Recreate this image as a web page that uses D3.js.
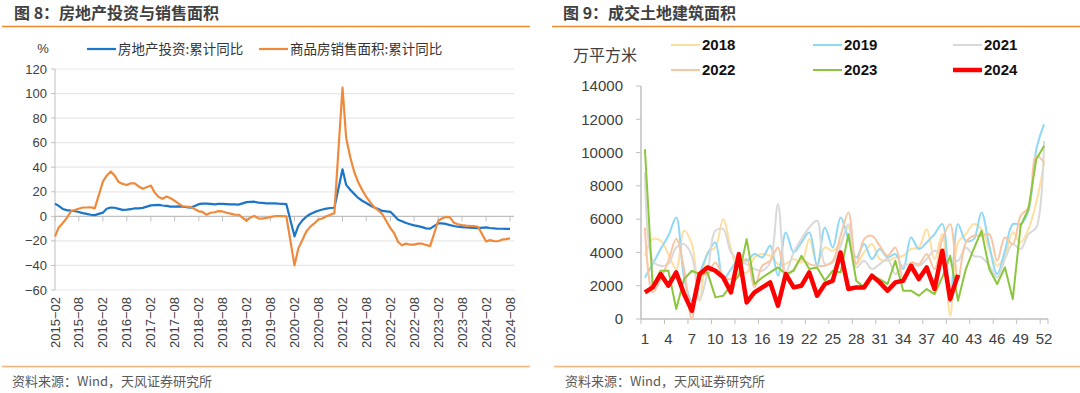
<!DOCTYPE html>
<html><head><meta charset="utf-8">
<script src="https://cdn.jsdelivr.net/npm/d3@7/dist/d3.min.js"></script>
<style>
html,body{margin:0;padding:0;background:#fff;}
svg{display:block;font-family:"Liberation Sans","Noto Sans CJK SC",Arial,sans-serif;}
</style></head>
<body>
<svg id="c" width="1080" height="393"></svg>
<script>
// ---------- Left chart data ----------
const months = [
"2015-02","2015-03","2015-04","2015-05","2015-06","2015-07","2015-08","2015-09","2015-10","2015-11","2015-12",
"2016-02","2016-03","2016-04","2016-05","2016-06","2016-07","2016-08","2016-09","2016-10","2016-11","2016-12",
"2017-02","2017-03","2017-04","2017-05","2017-06","2017-07","2017-08","2017-09","2017-10","2017-11","2017-12",
"2018-02","2018-03","2018-04","2018-05","2018-06","2018-07","2018-08","2018-09","2018-10","2018-11","2018-12",
"2019-02","2019-03","2019-04","2019-05","2019-06","2019-07","2019-08","2019-09","2019-10","2019-11","2019-12",
"2020-02","2020-03","2020-04","2020-05","2020-06","2020-07","2020-08","2020-09","2020-10","2020-11","2020-12",
"2021-02","2021-03","2021-04","2021-05","2021-06","2021-07","2021-08","2021-09","2021-10","2021-11","2021-12",
"2022-02","2022-03","2022-04","2022-05","2022-06","2022-07","2022-08","2022-09","2022-10","2022-11","2022-12",
"2023-02","2023-03","2023-04","2023-05","2023-06","2023-07","2023-08","2023-09","2023-10","2023-11","2023-12",
"2024-02","2024-03","2024-04","2024-05","2024-06","2024-07","2024-08"];
const investYoY = [
10.4,8.5,6.0,5.1,4.6,4.3,3.5,2.6,2.0,1.3,1.0,
3.0,6.2,7.2,7.0,6.1,5.3,5.4,5.8,6.6,6.5,6.9,
8.9,9.1,9.3,8.8,8.5,7.9,7.9,8.1,7.8,7.5,7.0,
9.9,10.4,10.3,10.2,9.7,10.2,10.1,9.9,9.7,9.7,9.5,
11.6,11.8,11.9,11.2,10.9,10.6,10.5,10.5,10.3,10.2,9.9,
-16.3,-7.7,-3.3,-0.3,1.9,3.4,4.6,5.6,6.3,6.8,7.0,
38.3,25.6,21.6,18.3,15.0,12.7,10.9,8.8,7.2,6.0,4.4,
3.7,0.7,-2.7,-4.0,-5.4,-6.4,-7.4,-8.0,-8.8,-9.8,-10.0,
-5.7,-5.8,-6.2,-7.2,-7.9,-8.5,-8.8,-9.1,-9.3,-9.4,-9.6,
-9.0,-9.5,-9.8,-10.1,-10.1,-10.2,-10.2];
const salesYoY = [
-16.3,-9.2,-5.4,-1.6,3.9,5.1,6.2,7.2,7.2,7.4,6.5,
28.2,33.1,36.5,33.2,27.9,26.4,25.5,26.9,26.8,24.3,22.5,
25.1,19.5,15.7,14.3,16.1,14.7,12.7,10.3,8.2,7.9,7.7,
4.1,3.6,1.3,2.9,3.3,4.2,4.0,2.9,2.2,1.4,1.3,
-3.6,-0.9,0.3,-1.6,-1.8,-1.3,-0.6,0.1,0.1,0.2,-0.1,
-39.9,-26.3,-19.3,-12.3,-8.4,-5.8,-2.6,-1.8,0.0,1.3,2.6,
104.9,63.8,48.1,36.3,27.7,21.5,15.9,11.3,7.5,4.8,1.9,
-9.6,-13.6,-20.9,-23.6,-22.2,-23.1,-23.0,-22.2,-22.3,-23.3,-24.3,
-3.6,-1.8,-0.4,-0.9,-5.3,-6.5,-7.1,-7.5,-7.8,-8.0,-8.5,
-20.5,-19.4,-20.2,-20.3,-19.0,-18.6,-18.0];
const leftXTicks = ["2015-02","2015-08","2016-02","2016-08","2017-02","2017-08","2018-02","2018-08","2019-02","2019-08",
"2020-02","2020-08","2021-02","2021-08","2022-02","2022-08","2023-02","2023-08","2024-02","2024-08"];
const leftYTicks = [-60,-40,-20,0,20,40,60,80,100,120];
const leftSeriesNames = ["房地产投资:累计同比","商品房销售面积:累计同比"];

// ---------- Right chart data ----------
const weeks = d3.range(1,53);
const rightXTicks = [1,4,7,10,13,16,19,22,25,28,31,34,37,40,43,46,49,52];
const rightYTicks = [0,2000,4000,6000,8000,10000,12000,14000];
const y2018 = [3800,4800,4700,3900,3000,5300,4500,1100,4000,4300,6000,4200,2900,2800,3700,3900,3800,3300,3300,3600,3400,4800,3300,4300,4100,4600,5500,3300,4000,4500,3600,3500,3700,3800,4200,4300,5400,3600,5100,200,4600,5100,5700,5400,4200,3200,3800,5200,4600,5400,7000,9400];
const y2019 = [2500,3300,4200,5000,6100,2500,1100,2700,3900,4600,2400,3000,3600,3500,3900,3700,4400,2600,5200,4000,4600,5200,3200,5500,4300,6100,4800,3700,4500,3600,4200,3700,3900,3000,4900,4200,4600,5100,5700,1000,5700,4700,4800,6400,4400,2700,4100,5700,5700,6500,10200,11700];
const y2021 = [8800,3500,3200,3300,4300,4500,3800,1200,2800,5300,5400,4000,3500,3300,3000,2900,3400,6900,2800,4000,4800,5500,5900,3300,3400,4400,5700,3100,3500,3000,3300,3600,2700,3200,3300,3200,3600,4100,3800,3600,3500,4300,3800,3700,3200,2500,3600,4500,4200,5100,5500,10700];
const y2022 = [5500,1600,2400,3500,4800,3000,0,2600,2700,3400,2600,2400,3200,3600,1900,3200,3500,4300,2600,3000,3600,3300,3200,3200,3500,5000,6400,3300,4800,5000,4400,3800,4300,2400,3400,3300,3900,3000,4800,5700,2400,4600,5000,5000,5100,3500,4900,4500,6200,6700,9800,9400];
const y2023 = [10200,1900,2900,2900,600,2400,2900,2700,2800,1300,1400,2000,2600,4800,2100,2500,2800,3100,2700,2900,3800,3000,3100,2300,2900,2800,5100,2300,1900,2600,2400,2100,3500,1700,1700,1400,1800,1500,2500,3800,1100,3000,4200,5300,3000,2100,3100,1200,5600,6600,9600,10400];
const y2024 = [1600,1900,2700,2000,2800,1500,500,2700,3100,2900,2500,1600,3900,1000,1600,1900,2200,800,2700,1900,2000,2800,1400,2100,2300,4000,1800,1900,1900,2600,2200,1700,2200,2300,3200,2400,3100,1800,4100,1200,2650];
const rightSeries = [
  {name:"2018", values:y2018, color:"#ffdf9f", w:2, smooth:true},
  {name:"2019", values:y2019, color:"#8fd8f6", w:2, smooth:true},
  {name:"2021", values:y2021, color:"#d9d9d9", w:2, smooth:true},
  {name:"2022", values:y2022, color:"#f8c6a4", w:2, smooth:true},
  {name:"2023", values:y2023, color:"#8cc63e", w:2, smooth:false},
  {name:"2024", values:y2024, color:"#ff0000", w:4.5, smooth:false}
];

const svg = d3.select("#c");
const gridC = "#e8e8e8", axisC = "#bfbfbf", txtC = "#404040";

// ---------- headers / footers ----------
function header(x, x0, x1, title){
  svg.append("text").attr("x",x).attr("y",19).attr("font-size",16).attr("font-weight","bold")
    .attr("fill","#404040").attr("font-family","'Noto Sans CJK SC',sans-serif").text(title);
  svg.append("line").attr("x1",x0).attr("x2",x1).attr("y1",26.5).attr("y2",26.5).attr("stroke","#f08a2e").attr("stroke-width",1.5);
}
header(14, 2, 530, "图 8：房地产投资与销售面积");
header(563, 552, 1080, "图 9：成交土地建筑面积");
function footer(x, x0, x1){
  svg.append("line").attr("x1",x0).attr("x2",x1).attr("y1",366.5).attr("y2",366.5).attr("stroke","#f5b27a").attr("stroke-width",1.5);
  svg.append("text").attr("x",x).attr("y",386).attr("font-size",13).attr("fill","#595959")
    .attr("font-family","'Noto Sans CJK SC',sans-serif").text("资料来源：Wind，天风证券研究所");
}
footer(12, 2, 530);
footer(565, 554, 1080);

// ---------- Left chart ----------
const parse = d3.utcParse("%Y-%m");
const xL = d3.scaleUtc().domain([parse(months[0]), parse(months[months.length-1])]).range([55, 510]);
const yL = d3.scaleLinear().domain([-60,120]).range([290, 69]);
const L = svg.append("g");
// gridlines
L.selectAll(".g").data(leftYTicks.filter(d=>d!==0)).join("line")
  .attr("x1",55).attr("x2",514).attr("y1",d=>yL(d)).attr("y2",d=>yL(d)).attr("stroke",gridC).attr("stroke-width",1.2);
// y axis
L.append("line").attr("x1",55).attr("x2",55).attr("y1",yL(120)).attr("y2",yL(-60)).attr("stroke",axisC);
L.selectAll(".yt").data(leftYTicks).join("line").attr("x1",51).attr("x2",55).attr("y1",d=>yL(d)).attr("y2",d=>yL(d)).attr("stroke",axisC);
L.selectAll(".yl").data(leftYTicks).join("text").attr("x",47).attr("y",d=>yL(d)).attr("dy","0.35em")
  .attr("text-anchor","end").attr("font-size",13).attr("fill",txtC).text(d=>d<0?"−"+Math.abs(d):d);
L.append("text").attr("x",43).attr("y",53).attr("text-anchor","middle").attr("font-size",13).attr("fill",txtC).text("%");
// x axis at zero
L.append("line").attr("x1",55).attr("x2",514).attr("y1",yL(0)).attr("y2",yL(0)).attr("stroke",axisC).attr("stroke-width",1.2);
L.selectAll(".xt").data(leftXTicks).join("line").attr("x1",d=>xL(parse(d))).attr("x2",d=>xL(parse(d)))
  .attr("y1",yL(0)).attr("y2",yL(0)+5).attr("stroke",axisC);
L.selectAll(".xl").data(leftXTicks).join("text")
  .attr("transform",d=>`translate(${xL(parse(d))},297) rotate(-90)`).attr("dy","0.35em")
  .attr("text-anchor","end").attr("font-size",13).attr("fill",txtC).text(d=>d.replace("-","−"));
// lines
const lineL = vals => d3.line().x((d,i)=>xL(parse(months[i]))).y(d=>yL(d))(vals);
L.append("path").attr("d",lineL(investYoY)).attr("fill","none").attr("stroke","#1b75c8").attr("stroke-width",2.2).attr("stroke-linejoin","round");
L.append("path").attr("d",lineL(salesYoY)).attr("fill","none").attr("stroke","#ef8a3c").attr("stroke-width",2.2).attr("stroke-linejoin","round");
// legend
const legL = [{x:87, c:"#1b75c8"},{x:259, c:"#ef8a3c"}];
leftSeriesNames.forEach((n,i)=>{
  L.append("line").attr("x1",legL[i].x).attr("x2",legL[i].x+29).attr("y1",49).attr("y2",49).attr("stroke",legL[i].c).attr("stroke-width",2.2);
  L.append("text").attr("x",legL[i].x+31).attr("y",49).attr("dy","0.35em").attr("font-size",13.5).attr("fill","#333")
    .attr("font-family","'Noto Sans CJK SC',sans-serif").text(n);
});

// ---------- Right chart ----------
const xR = d3.scaleBand().domain(weeks).range([641, 1048]);
const yR = d3.scaleLinear().domain([0,14000]).range([319, 86]);
const R = svg.append("g");
R.append("line").attr("x1",641).attr("x2",641).attr("y1",yR(14000)).attr("y2",yR(0)).attr("stroke",axisC).attr("stroke-width",1.5);
R.selectAll(".yt").data(rightYTicks).join("line").attr("x1",636).attr("x2",641).attr("y1",d=>yR(d)).attr("y2",d=>yR(d)).attr("stroke",axisC);
R.selectAll(".yl").data(rightYTicks).join("text").attr("x",623).attr("y",d=>yR(d)).attr("dy","0.35em")
  .attr("text-anchor","end").attr("font-size",15).attr("fill",txtC).text(d=>d);
R.append("text").attr("x",573).attr("y",55).attr("dy","0.35em").attr("font-size",16).attr("fill",txtC)
  .attr("font-family","'Noto Sans CJK SC',sans-serif").text("万平方米");
R.append("line").attr("x1",641).attr("x2",1048).attr("y1",yR(0)).attr("y2",yR(0)).attr("stroke",axisC).attr("stroke-width",1.5);
R.selectAll(".xt").data(rightXTicks).join("line").attr("x1",d=>xR(d)).attr("x2",d=>xR(d))
  .attr("y1",yR(0)).attr("y2",yR(0)+5).attr("stroke",axisC);
R.append("line").attr("x1",1048).attr("x2",1048).attr("y1",yR(0)).attr("y2",yR(0)+5).attr("stroke",axisC);
R.selectAll(".xl").data(rightXTicks).join("text").attr("x",d=>xR(d)+xR.bandwidth()/2).attr("y",339).attr("dy","0.35em")
  .attr("text-anchor","middle").attr("font-size",15).attr("fill",txtC).text(d=>d);
rightSeries.forEach(s=>{
  const ln = d3.line().x((d,i)=>xR(weeks[i])+xR.bandwidth()/2).y(d=>yR(d))
    .curve(s.smooth? d3.curveCatmullRom.alpha(0.5) : d3.curveLinear);
  R.append("path").attr("d",ln(s.values)).attr("fill","none").attr("stroke",s.color).attr("stroke-width",s.w).attr("stroke-linejoin","round");
});
// legend
const legPos = [[671,45],[813,45],[953,45],[671,70],[813,70],[953,70]];
rightSeries.forEach((s,i)=>{
  const [lx,ly] = legPos[i];
  R.append("line").attr("x1",lx).attr("x2",lx+29).attr("y1",ly).attr("y2",ly).attr("stroke",s.color).attr("stroke-width",s.w);
  R.append("text").attr("x",lx+31).attr("y",ly).attr("dy","0.35em").attr("font-size",15).attr("font-weight","bold").attr("fill","#111").text(s.name);
});
</script>
</body></html>
